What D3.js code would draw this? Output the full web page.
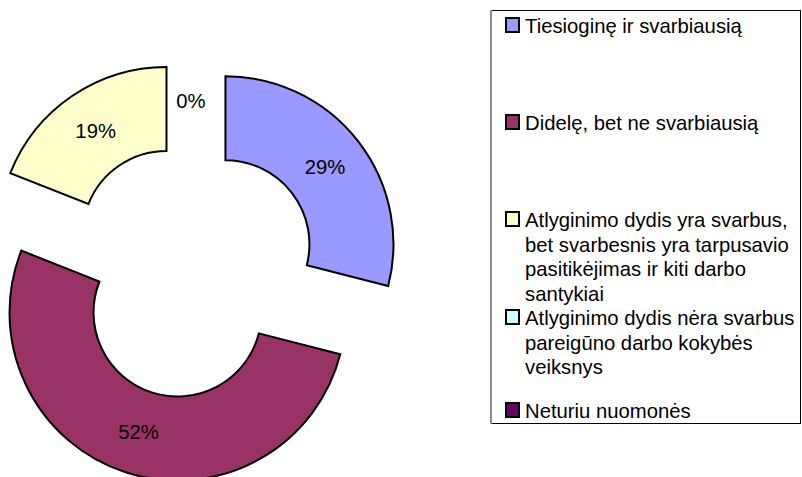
<!DOCTYPE html>
<html>
<head>
<meta charset="utf-8">
<script src="https://cdn.jsdelivr.net/npm/d3@7"></script>
<style>
  html, body { margin: 0; padding: 0; background: #fff; }
  svg { display: block; font-family: "Liberation Sans", Arial, sans-serif; }
</style>
</head>
<body>
<svg id="chart" width="802" height="477"></svg>
<script>
// Answer categories (shown in the legend) and their shares, in percent
const categories = [
  "Tiesioginę ir svarbiausią",
  "Didelę, bet ne svarbiausią",
  "Atlyginimo dydis yra svarbus, bet svarbesnis yra tarpusavio pasitikėjimas ir kiti darbo santykiai",
  "Atlyginimo dydis nėra svarbus pareigūno darbo kokybės veiksnys",
  "Neturiu nuomonės"
];
const values = [29, 52, 19, 0, 0];
const colors = ["#9999FF", "#993366", "#FFFFCC", "#CCFFFF", "#660066"];

const svg = d3.select("#chart");
const fontSize = 20.3;

// Doughnut geometry
const cx = 191, cy = 271;
const innerR = 84, outerR = 168;
const explode = 43.6;

const pie = d3.pie().sort(null).value(d => d.value).startAngle(0).endAngle(2 * Math.PI);
const arcs = pie(categories.map((c, i) => ({ name: c, value: values[i], color: colors[i] })));
const arc = d3.arc().innerRadius(innerR).outerRadius(outerR);
const total = d3.sum(values);

const ring = svg.append("g").attr("transform", `translate(${cx},${cy})`);

const slice = ring.selectAll("g.slice")
  .data(arcs)
  .join("g")
  .attr("class", "slice")
  .attr("transform", d => {
    const mid = (d.startAngle + d.endAngle) / 2;
    return `translate(${explode * Math.sin(mid)},${-explode * Math.cos(mid)})`;
  });

slice.filter(d => d.value > 0)
  .append("path")
  .attr("d", arc)
  .attr("fill", d => d.data.color)
  .attr("stroke", "#000")
  .attr("stroke-width", 2)
  .attr("stroke-linejoin", "miter");

// empty slices collapse onto the same angle; label that spot only once
const seenAngles = new Set();
slice.filter(d => {
    const key = d.startAngle.toFixed(4) + "|" + d.endAngle.toFixed(4);
    if (seenAngles.has(key)) return false;
    seenAngles.add(key);
    return true;
  })
  .append("text")
  .attr("transform", d => `translate(${arc.centroid(d)})`)
  .attr("text-anchor", "middle")
  .attr("dominant-baseline", "central")
  .attr("font-size", fontSize)
  .attr("fill", "#000")
  .text(d => Math.round(d.value / total * 100) + "%");

// Legend
const legend = svg.append("g");
legend.append("rect")
  .attr("x", 491.5).attr("y", 10.5)
  .attr("width", 309).attr("height", 413)
  .attr("fill", "#fff")
  .attr("stroke", "#000")
  .attr("stroke-width", 1);
legend.append("line")
  .attr("x1", 491).attr("x2", 491)
  .attr("y1", 10).attr("y2", 424)
  .attr("stroke", "#8a8a8a")
  .attr("stroke-width", 2);

const itemBaselines = [33, 130, 227, 325, 418];
const lineGap = 24.5;
const textX = 525;
const maxWidth = 274;

categories.forEach((name, i) => {
  const y0 = itemBaselines[i];
  legend.append("rect")
    .attr("x", 506).attr("y", y0 - 15)
    .attr("width", 13).attr("height", 14)
    .attr("fill", colors[i])
    .attr("stroke", "#000")
    .attr("stroke-width", 2);

  const text = legend.append("text")
    .attr("x", textX).attr("y", y0)
    .attr("font-size", fontSize)
    .attr("fill", "#000");

  // wrap words into lines that fit the legend box
  const words = name.split(" ");
  let line = [];
  let lineNo = 0;
  let tspan = text.append("tspan").attr("x", textX).attr("y", y0);
  words.forEach(w => {
    line.push(w);
    tspan.text(line.join(" "));
    if (tspan.node().getComputedTextLength() > maxWidth && line.length > 1) {
      line.pop();
      tspan.text(line.join(" "));
      line = [w];
      lineNo += 1;
      tspan = text.append("tspan")
        .attr("x", textX)
        .attr("y", y0 + lineNo * lineGap)
        .text(w);
    }
  });
});
</script>
</body>
</html>
